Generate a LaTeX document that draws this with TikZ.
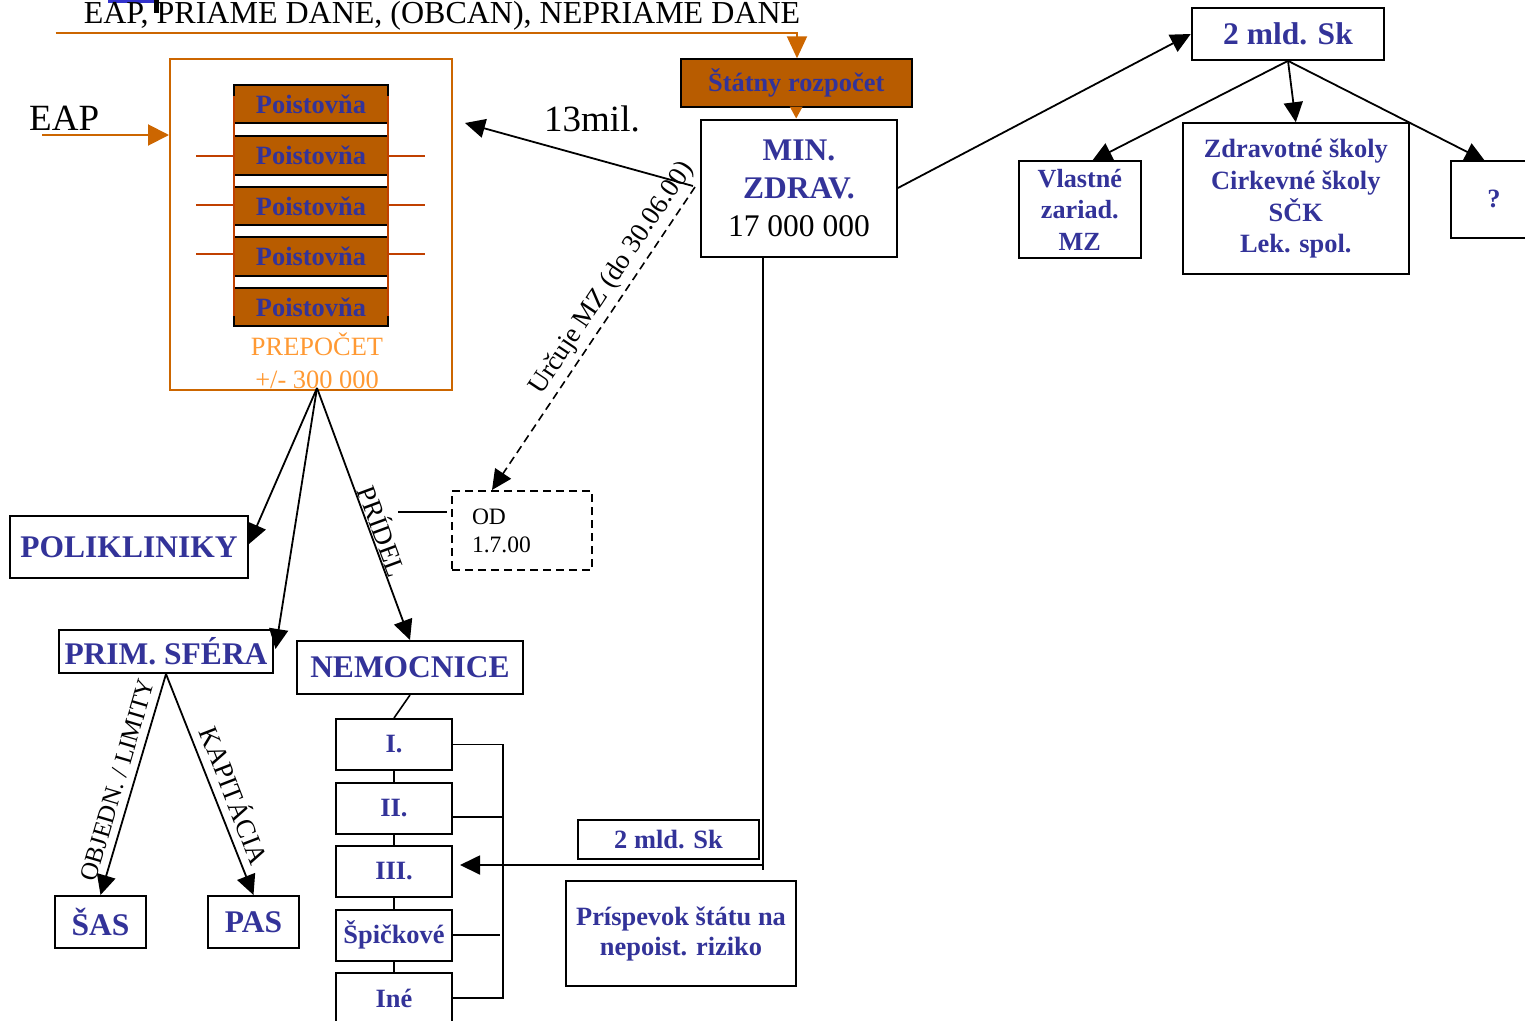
\documentclass[tikz,border=0pt]{standalone}
\usepackage{fontspec}
\setmainfont{Liberation Serif}
\usetikzlibrary{arrows.meta,calc}
\definecolor{tblue}{RGB}{51,51,153}
\definecolor{pbrown}{RGB}{184,92,0}
\definecolor{orln}{RGB}{204,102,0}
\definecolor{orlt}{RGB}{255,153,51}
\definecolor{redor}{RGB}{192,64,0}
\definecolor{barblue}{RGB}{51,51,204}
\newcommand\fbig{\fontsize{31.5}{38}\selectfont}
\newcommand\fmid{\fontsize{26.4}{31.8}\selectfont}
\begin{document}
\begin{tikzpicture}[x=1pt,y=-1pt,
 box/.style={draw=black,line width=2pt,fill=white,inner sep=0pt,align=center,text=tblue},
 pbox/.style={draw=black,line width=2pt,fill=pbrown,inner sep=0pt,text=tblue,font=\bfseries\fmid,minimum width=154pt,minimum height=38.5pt},
 arr/.style={line width=1.8pt,-{Triangle[length=20pt,width=19pt]}},
 oarr/.style={color=orln,line width=2pt,-{Triangle[length=21pt,width=21pt]}},
 lab/.style={inner xsep=0pt,anchor=south},
 thin/.style={line width=1.6pt}
]
\useasboundingbox (0,0) rectangle (1525,1020);
% top-left artefacts
\fill[barblue] (108,0) rectangle (157,3);
\fill[black] (154,0) rectangle (159,13);
% top text and orange line
\node[anchor=base,inner sep=0pt,font=\fontsize{32}{38}\selectfont] (toptxt) at (442,23) {EAP, PRIAME DANE, (OBCAN), NEPRIAME DANE};
% state budget and ministry
\node[box,fill=pbrown,minimum width=230.6pt,minimum height=48pt,font=\bfseries\fmid] (statny) at (796.2,83.3) {Štátny rozpočet};
\node[box,minimum width=196pt,minimum height=137pt,font=\bfseries\fbig] (minz) at (798.9,188) {MIN.\\ZDRAV.\\{\mdseries\color{black}17 000 000}};
\coordinate (tl) at (55.6,33.3);
\coordinate (tc) at (797,33.3);
\draw[color=orln,line width=2pt,-{Triangle[length=22pt,width=20pt]}] (tl) -- (tc) -- (tc |- statny.north);
\draw[color=orln,line width=2pt,-{Triangle[length=12pt,width=12.5pt]}] (statny.south) -- (statny.south |- minz.north);
% orange frame with insurers
\node[draw=orln,line width=2pt,minimum width=282pt,minimum height=331pt,inner sep=0pt] (obox) at (311,224.5) {};
\foreach \i/\y in {1/104,2/155.5,3/206,4/256.5,5/307}
  \node[pbox] (p\i) at (311,\y) {Poistovňa};
\draw[redor,line width=1.5pt] (234,96) -- (234,316);
\draw[redor,line width=1.5pt] (388,96) -- (388,316);
\foreach \y in {156,205,254}{
  \draw[redor,line width=1.5pt] (196,\y) -- (234,\y);
  \draw[redor,line width=1.5pt] (388,\y) -- (425,\y);
}
\node[text=orlt,align=center,inner sep=0pt,font=\fontsize{26.4}{33}\selectfont] (prep) at (317,361) {PREPOČET\\+/- 300 000};
% EAP input
\node[anchor=base west,inner sep=0pt,font=\fontsize{37}{42}\selectfont] (eap) at (29,130) {EAP};
\coordinate (eapS) at (42,135);
\draw[oarr] (eapS) -- (obox.west |- eapS);
% 13 mil arrow
\node[anchor=base west,inner sep=0pt,font=\fontsize{37}{42}\selectfont] (mil) at (544,131) {13mil.};
\coordinate (mzA) at (693,186);
\coordinate (obR) at (465,123);
\draw[arr] (mzA) -- (obR);
% OD box and dashed arrow
\node[draw,line width=1.8pt,dash pattern=on 8pt off 5pt,minimum width=140pt,minimum height=79pt,align=left,text width=100pt,inner xsep=20pt,inner ysep=0pt,font=\fontsize{23.5}{28}\selectfont] (od) at (522,530.5) {OD\\1.7.00};
\coordinate (mzL) at (695,187);
\coordinate (odT) at (492,490);
\draw[arr,line width=1.6pt,dash pattern=on 8pt off 5pt] (mzL) -- node[lab,pos=.335,rotate=56.2,inner ysep=5pt,font=\fontsize{27}{32}\selectfont] {Určuje MZ (do 30.06.00)} (odT);
% lower left boxes
\node[box,minimum width=238pt,minimum height=62pt,font=\bfseries\fbig] (poli) at (129,547) {POLIKLINIKY};
\node[box,minimum width=214.5pt,minimum height=43pt,font=\bfseries\fbig] (prim) at (166,651.5) {PRIM. SFÉRA};
\node[box,minimum width=226pt,minimum height=53pt,font=\bfseries\fbig] (nem) at (410,667.5) {NEMOCNICE};
\node[box,minimum width=91pt,minimum height=52pt,font=\bfseries\fbig] (sas) at (100.5,922) {ŠAS};
\node[box,minimum width=91pt,minimum height=52pt,font=\bfseries\fbig] (pas) at (253.5,922) {PAS};
\coordinate (pb) at (317,388);
\coordinate (poliT) at (249,544);
\coordinate (primT) at (275.5,649);
\draw[arr] (pb) -- (poliT);
\draw[arr] (pb) -- (primT);
\draw[arr] (pb) -- node[lab,pos=.585,rotate=-69.8,inner ysep=1pt,font=\fontsize{27}{32}\selectfont] {PRÍDEL} (nem.north);
\coordinate (odL) at (398,512);
\draw[thin,shorten >=4pt] (odL) -- (od.west |- odL);
\draw[arr] (prim.south) -- node[lab,pos=.5,rotate=73.6,inner ysep=7pt,font=\fontsize{25}{30}\selectfont] {OBJEDN. / LIMITY} (sas.north);
\draw[arr] (prim.south) -- node[lab,pos=.58,rotate=-68.8,inner ysep=8pt,font=\fontsize{27}{32}\selectfont] {KAPITÁCIA} (pas.north);
% hospital levels
\node[box,minimum width=116pt,minimum height=51pt,font=\bfseries\fmid] (l1) at (394,744.5) {I.};
\node[box,minimum width=116pt,minimum height=51pt,font=\bfseries\fmid] (l2) at (394,808.5) {II.};
\node[box,minimum width=116pt,minimum height=51pt,font=\bfseries\fmid] (l3) at (394,871.5) {III.};
\node[box,minimum width=116pt,minimum height=51pt,font=\bfseries\fmid] (l4) at (394,935) {Špičkové};
\node[box,minimum width=116pt,minimum height=51pt,font=\bfseries\fmid] (l5) at (394,998) {Iné};
\draw[thin] (nem.south) -- (l1.north);
\draw[thin] (l1.south) -- (l2.north);
\draw[thin] (l2.south) -- (l3.north);
\draw[thin] (l3.south) -- (l4.north);
\draw[thin] (l4.south) -- (l5.north);
\coordinate (brT) at (502.7,744.5);
\coordinate (brB) at (502.7,998);
\coordinate (y2) at (0,817);
\draw[line width=1.8pt] (l1.east) -- (brT) -- (brB) -- (l5.east);
\draw[thin] (l2.east |- y2) -- (brT |- y2);
\draw[thin] (l4.east) -- ($(brT |- l4.east)+(-3,0)$);
% ministry down to level III
\coordinate (vb) at (763,870);
\coordinate (vA) at (763,865);
\coordinate (l3T) at (460,865);
\draw[line width=1.8pt] (minz.south -| vb) -- (vb);
\draw[arr] (vA) -- (l3T);
\node[box,minimum width=181pt,minimum height=39pt,font=\bfseries\fmid] (mldB) at (668.5,839.5) {2 mld. Sk};
\node[box,minimum width=230pt,minimum height=105pt,font=\bfseries\fontsize{26.4}{30}\selectfont] (pr) at (681,933.5) {Príspevok štátu na\\nepoist. riziko};
% right side
\node[box,minimum width=192.5pt,minimum height=51.7pt,font=\bfseries\fbig] (mldT) at (1288,34) {2 mld. Sk};
\node[box,minimum width=121.6pt,minimum height=96.7pt,font=\bfseries\fontsize{26.2}{31.5}\selectfont] (vl) at (1079.8,209.4) {Vlastné\\zariad.\\MZ};
\node[box,minimum width=226.4pt,minimum height=150.7pt,font=\bfseries\fmid] (zs) at (1295.8,198.6) {Zdravotné školy\\Cirkevné školy\\SČK\\Lek. spol.};
\node[box,minimum width=86pt,minimum height=76.7pt,font=\bfseries\fmid] (q) at (1494,199.4) {?};
\draw[arr] (minz.east) -- (mldT.west);
\coordinate (vlT) at (1092,161);
\coordinate (qT) at (1485,161);
\draw[arr] (mldT.south) -- (vlT);
\draw[arr] (mldT.south) -- (zs.north);
\draw[arr] (mldT.south) -- (qT);
\end{tikzpicture}
\end{document}
